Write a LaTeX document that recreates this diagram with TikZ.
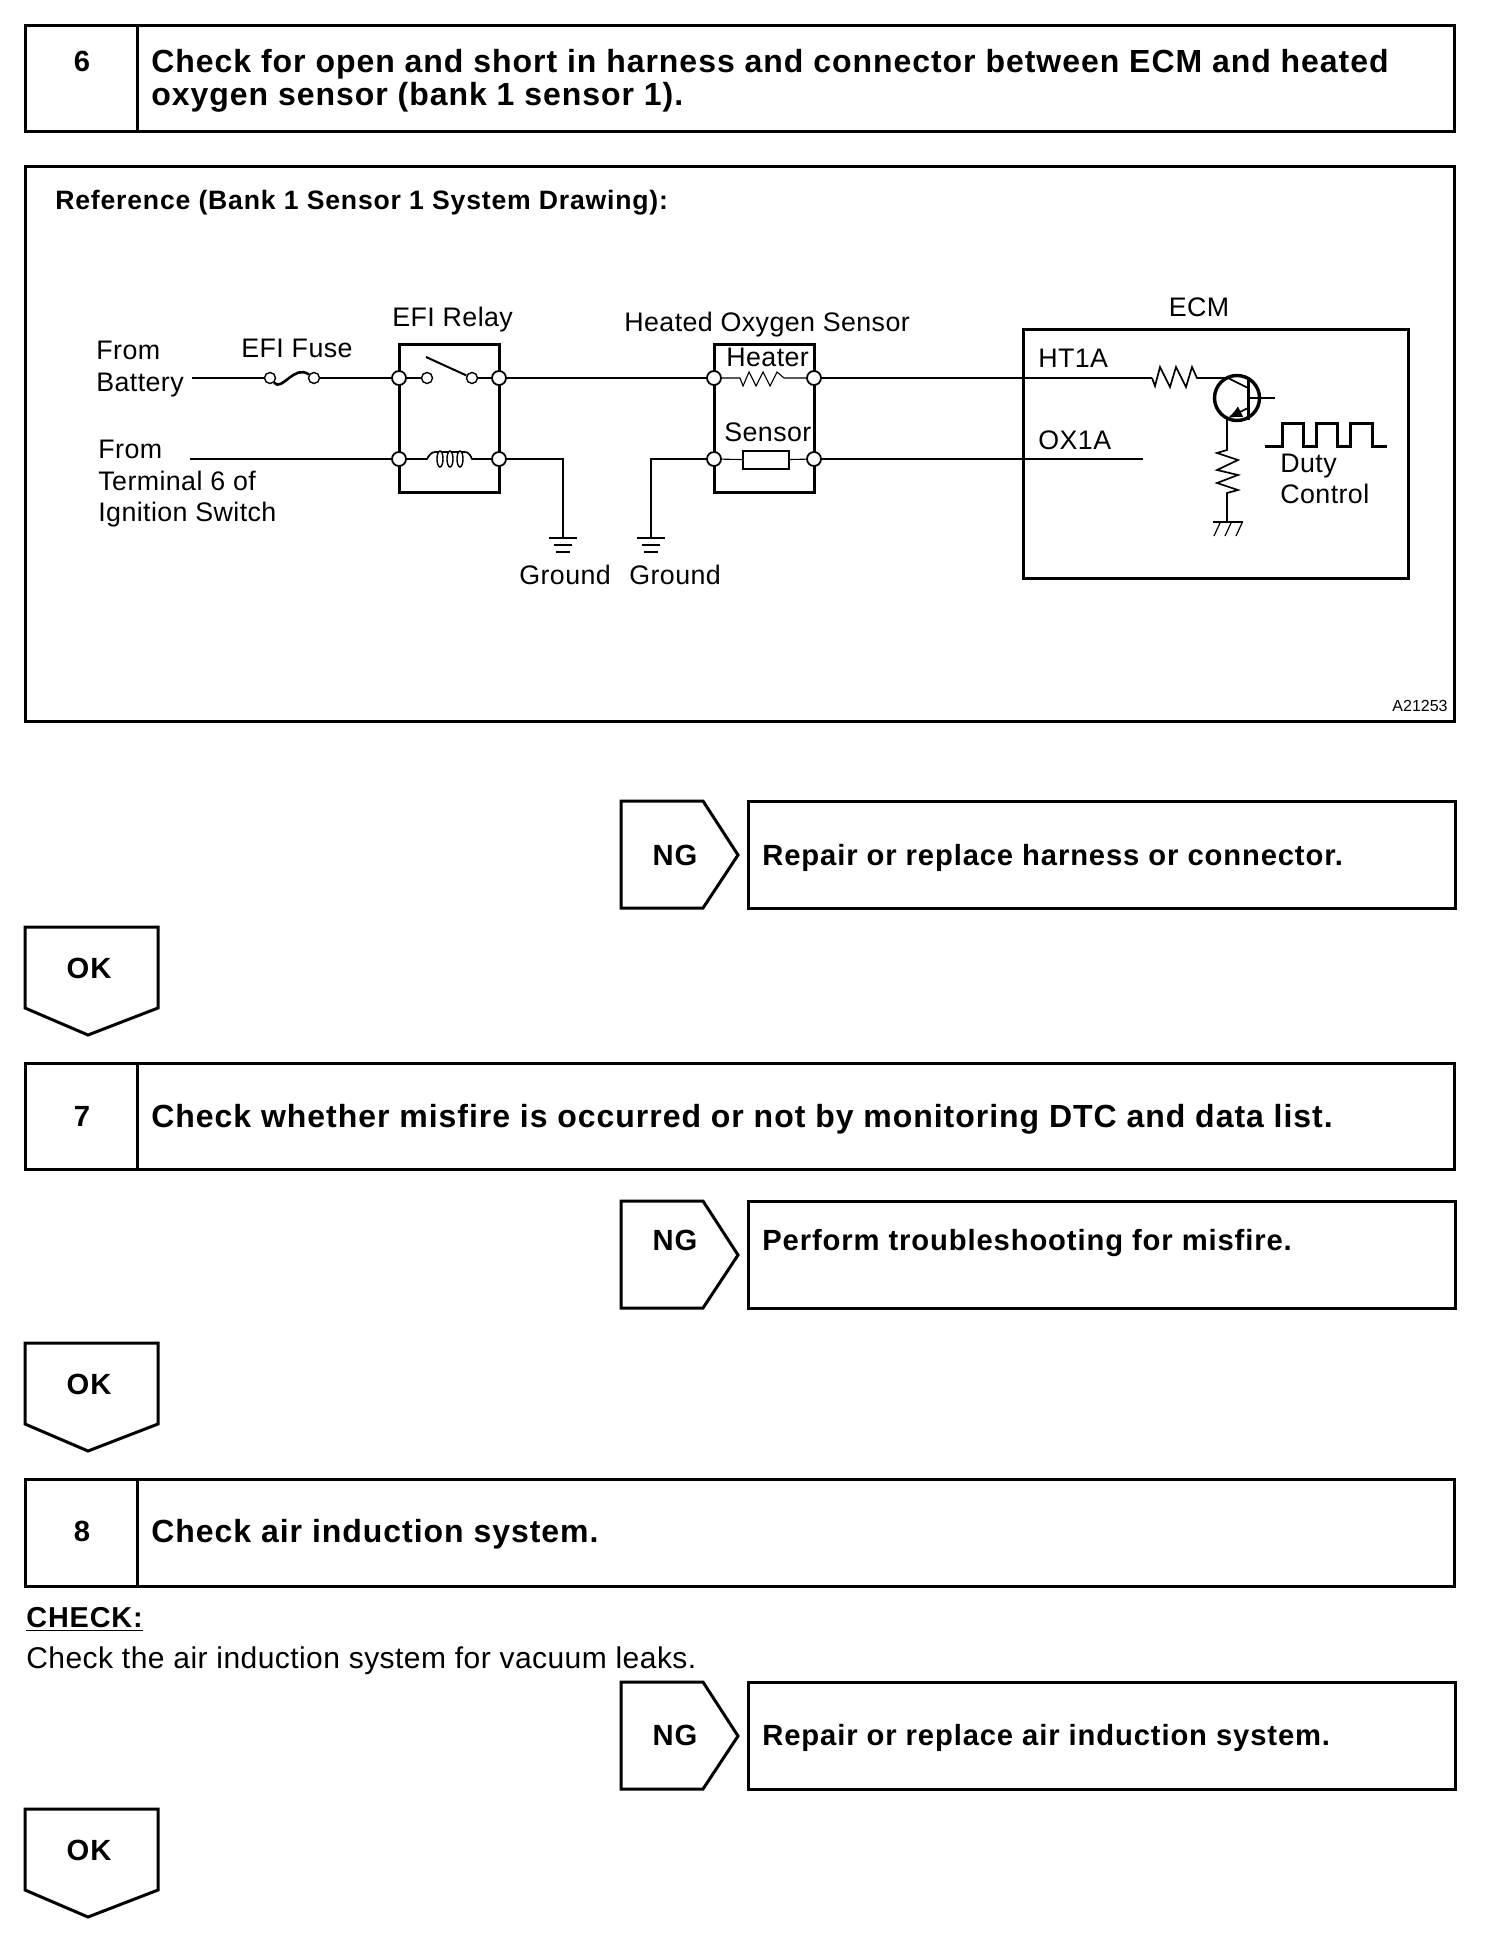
\documentclass[tikz,border=0pt]{standalone}
\usepackage{fontspec}
\setmainfont{Liberation Sans}
\newfontfamily\tfbase[LetterSpace=3.0]{Liberation Sans}
\newcommand{\titlefont}{\tfbase\bfseries}
\newfontfamily\plainfont[LetterSpace=1.5]{Liberation Sans}
\usetikzlibrary{arrows.meta}
\tikzset{
  x=0.5pt,y=-0.5pt,
  heavy/.style={line width=1.5pt,line join=miter},
  wirethick/.style={line width=1.3pt},
  wirethin/.style={line width=0.85pt},
  hair/.style={line width=0.55pt},
  sbox/.style={draw,line width=1.5pt,inner sep=0pt,outer sep=0pt,anchor=north west},
  term/.style={circle,draw,fill=white,inner sep=0pt,minimum size=7pt,line width=0.9pt},
  small/.style={circle,draw,fill=white,inner sep=0pt,minimum size=5.5pt,line width=0.7pt},
  title/.style={font=\fontsize{16}{18}\titlefont,anchor=base west,inner sep=0pt,yshift=-5.7pt},
  outtitle/.style={font=\fontsize{14.6}{16}\titlefont,anchor=base west,inner sep=0pt,yshift=-5.2pt},
  badge/.style={font=\fontsize{14.6}{16}\tfbase\bfseries,anchor=center,inner sep=0pt},
  lab/.style={font=\fontsize{13.4}{15}\plainfont,anchor=base west,inner sep=0pt,yshift=-4.8pt},
  labc/.style={font=\fontsize{13.4}{15}\plainfont,anchor=base,inner sep=0pt,yshift=-4.8pt},
}
\newcommand{\stepbar}[5]{% name, top, bottom, number, number y
  \node[sbox,minimum width=714.5pt,minimum height=#3pt*0.5-#2pt*0.5] (#1) at (25,#2) {};
  \draw[heavy] (137,#2) -- (137,#3);
  \node[badge] (#1n) at (82,#5) {#4};
}
\newcommand{\outcome}[5]{% name, top, ok-top, text, text y
  \draw[heavy] (621,#2) -- (703,#2) -- (738,#2+54) -- (703,#2+107) -- (621,#2+107) -- cycle;
  \node[badge] (#1ng) at (675,#5) {NG};
  \node[sbox,minimum width=353.5pt,minimum height=53.5pt] (#1b) at (748,#2) {};
  \node[outtitle] (#1t) at (762,#5) {#4};
  \draw[heavy] (25,#3) -- (158,#3) -- (158,#3+81) -- (88,#3+108) -- (25,#3+81) -- cycle;
  \node[badge] (#1ok) at (89,#3+41) {OK};
}
\newcommand{\gnd}[2]{%
  \draw[line width=1.2pt] (#1-14,#2) -- (#1+14,#2);
  \draw[line width=1.2pt] (#1-9,#2+7) -- (#1+9,#2+7);
  \draw[line width=1.2pt] (#1-7,#2+14) -- (#1+7,#2+14);
}
\begin{document}
\begin{tikzpicture}
\useasboundingbox[fill=white] (0,0) rectangle (1504,1952);

% step bars
\stepbar{sa}{26}{132}{6}{61}
\node[title] (sat1) at (151,61) {Check for open and short in harness and connector between ECM and heated};
\node[title] (sat2) at (151,94) {oxygen sensor (bank 1 sensor 1).};
\stepbar{sb}{1063}{1169}{7}{1116}
\node[title] (sbt) at (151,1116) {Check whether misfire is occurred or not by monitoring DTC and data list.};
\stepbar{sc}{1479}{1586}{8}{1531}
\node[title] (sct) at (151,1531) {Check air induction system.};

% reference frame
\node[sbox,minimum width=714.5pt,minimum height=277pt] (frame) at (25,167) {};
\node[anchor=base west,inner sep=0pt,yshift=-4.8pt,font=\fontsize{13.3}{15}\titlefont] (ftitle) at (55,200) {Reference (Bank 1 Sensor 1 System Drawing):};
\node[anchor=east,inner sep=0pt,font=\fontsize{8}{9}\selectfont] (code) at (1448,706) {A21253};

% component boxes
\node[sbox,minimum width=50pt,minimum height=73.5pt,line width=1.5pt] (relay) at (399,345) {};
\node[sbox,minimum width=50pt,minimum height=73.5pt,line width=1.5pt] (sens) at (714,345) {};
\node[sbox,minimum width=192.5pt,minimum height=124pt,line width=1.5pt] (ecm) at (1023,330) {};

% terminals
\node[term] (r1) at (399,378) {};
\node[term] (r2) at (499,378) {};
\node[term] (r3) at (399,459) {};
\node[term] (r4) at (499,459) {};
\node[term] (s1) at (714,378) {};
\node[term] (s2) at (814,378) {};
\node[term] (s3) at (714,459) {};
\node[term] (s4) at (814,459) {};
\node[small] (f1) at (270,378) {};
\node[small] (f2) at (314,378) {};
\node[small] (c1) at (427,378) {};
\node[small] (c2) at (472,378) {};
\coordinate (batt) at (192,378);
\coordinate (ign) at (190,459);
\coordinate (g1) at (563,538);
\coordinate (g2) at (651,538);
\coordinate (ht) at (1152,378);
\coordinate (ox) at (1143,459);

% wires
\draw[wirethick] (batt) -- (f1);
\draw[wirethick] (f2) -- (r1);
\draw[wirethick] (f1) .. controls (282,392) and (294,364) .. (f2);
\draw[wirethick] (r1) -- (c1);
\draw[wirethick] (c2) -- (r2);
\draw[line width=1pt] (426,357) -- (c2);
\draw[wirethick] (r2) -- (s1);
\draw[wirethick] (s2) -- (ht);
\draw[wirethin] (ign) -- (r3);
\draw[wirethin] (r4) -| (g1);
\draw[wirethin] (s3) -| (g2);
\draw[wirethin] (s4) -- (ox);
\gnd{563}{538}
\gnd{651}{538}

% coil
\draw[wirethin] (r3) -- (427,459) .. controls (431,452) and (433,452) .. (437,452) -- (463,452) .. controls (467,452) and (469,452) .. (472,459) -- (r4);
\foreach \cx in {440,450,460} \draw[line width=0.7pt,fill=white] (\cx,459) ellipse [x radius=1.5pt,y radius=4pt];

% heater resistor
\draw[hair] (s1) -- (740,378) -- (743,386) -- (749,372) -- (756,386) -- (763,372) -- (770,386) -- (777,372) -- (784,378) -- (s2);
% sensor element
\node[draw,hair,inner sep=0pt,minimum width=23pt,minimum height=9pt] (elem) at (766,460) {};
\draw[hair] (s3) -- (elem);
\draw[hair] (elem) -- (s4);

% transistor circuit
\node[circle,draw,line width=1.7pt,inner sep=0pt,minimum size=22.5pt] (tr) at (1237,398) {};
\draw[line width=0.85pt] (ht) -- (1155,386) -- (1160,367) -- (1170,387) -- (1176,367) -- (1186,387) -- (1192,367) -- (1197,378) -- (1228,378) -- (1248,388);
\draw[line width=1.5pt] (1248,377) -- (1248,420);
\coordinate (base) at (1275,398);
\draw[line width=0.85pt] (1248,398) -- (base);
\draw[line width=0.85pt,-{Latex[length=7pt,width=6pt]}] (1248,408) -- (1228,418);
\coordinate (gnd3) at (1227,522);
\draw[line width=0.85pt] (1227,418) -- (1227,450) -- (1217,453) -- (1238,460) -- (1217,470) -- (1238,475) -- (1217,483) -- (1238,490) -- (1227,493) -- (gnd3);
\draw[line width=1.3pt] (1213,522) -- (1243,522);
\foreach \hx in {1220,1231,1242} \draw[line width=0.6pt] (\hx,523) -- (\hx-6,536);
\draw[line width=1.5pt] (1265,447) -- (1282,447) -- (1282,424) -- (1303,424) -- (1303,447) -- (1316,447) -- (1316,424) -- (1337,424) -- (1337,447) -- (1350,447) -- (1350,424) -- (1372,424) -- (1372,447) -- (1387,447);

% diagram labels
\node[lab] (l1) at (96,350) {From};
\node[lab] (l2) at (96,382) {Battery};
\node[lab] (l3) at (98,449) {From};
\node[lab] (l4) at (98,481) {Terminal 6 of};
\node[lab] (l5) at (98,512) {Ignition Switch};
\node[lab] (l6) at (241,348) {EFI Fuse};
\node[lab] (l7) at (392,317) {EFI Relay};
\node[lab] (l8) at (624,322) {Heated Oxygen Sensor};
\node[lab] (l9) at (726,357) {Heater};
\node[lab] (l10) at (724,432) {Sensor};
\node[lab] (l11) at (519,575) {Ground};
\node[lab] (l12) at (629,575) {Ground};
\node[labc] (l13) at (1199,307) {ECM};
\node[lab] (l14) at (1038,358) {HT1A};
\node[lab] (l15) at (1038,440) {OX1A};
\node[lab] (l16) at (1280,463) {Duty};
\node[lab] (l17) at (1280,494) {Control};

% outcomes
\outcome{oa}{801}{927}{Repair or replace harness or connector.}{855}
\outcome{ob}{1201}{1343}{Perform troubleshooting for misfire.}{1240}
\outcome{oc}{1682}{1809}{Repair or replace air induction system.}{1735}

% check text
\node[anchor=base west,inner sep=0pt,yshift=-5.2pt,font=\fontsize{14.4}{16}\titlefont] (ck) at (26,1617) {\underline{CHECK:}};
\node[anchor=base west,inner sep=0pt,yshift=-5.4pt,font=\fontsize{15}{17}\plainfont] (cktxt) at (26,1658) {Check the air induction system for vacuum leaks.};
\end{tikzpicture}
\end{document}
